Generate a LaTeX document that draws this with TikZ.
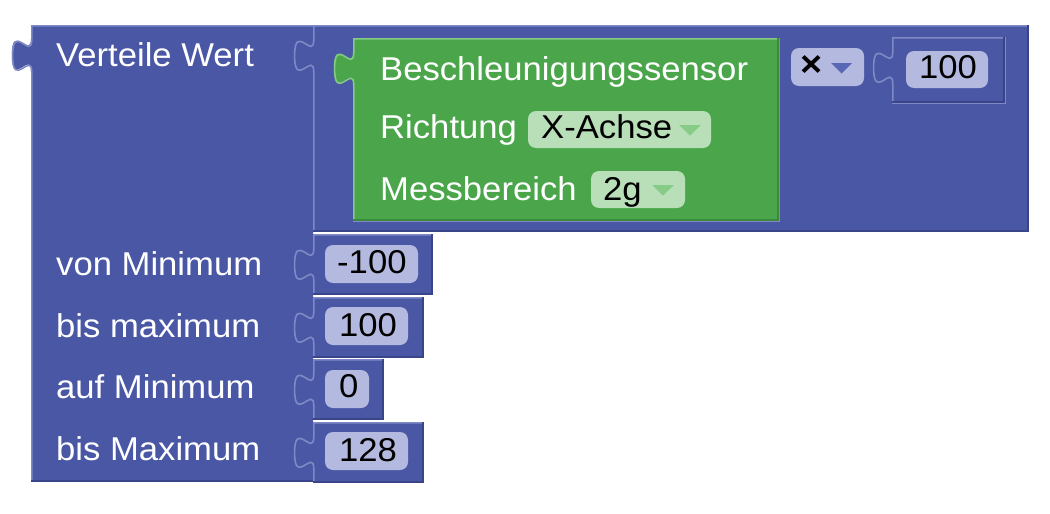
\documentclass[tikz,border=0pt]{standalone}
\usepackage{fontspec}
\setmainfont{Liberation Sans}[FakeStretch=1.05]
\definecolor{blk}{HTML}{4A57A5}
\definecolor{blkhl}{HTML}{7F89C6}
\definecolor{blkdk}{HTML}{3A4589}
\definecolor{pillb}{HTML}{B4BADF}
\definecolor{grn}{HTML}{4BA64B}
\definecolor{grnhl}{HTML}{84C984}
\definecolor{grndk}{HTML}{3A8A3A}
\definecolor{pillg}{HTML}{B8DFB8}
\definecolor{trig}{HTML}{86CB86}
\definecolor{trib}{HTML}{5A67B4}
\begin{document}
\begin{tikzpicture}[x=1pt,y=-1pt,
  tabdown/.style={insert path={-- ++(0,13.5)
      .. controls +(0,22) and +(0,-34.1) .. ++(-19.2,16.5)
      .. controls +(0,34.1) and +(0,-22) .. ++(19.2,16.5)}},
  hl/.style={draw=blkhl, line width=1.6pt},
  dk/.style={draw=blkdk, line width=2.2pt},
  ghl/.style={draw=grnhl, line width=1.6pt},
  gdk/.style={draw=grndk, line width=2.2pt},
  lbl/.style={text=white, inner sep=0pt, anchor=base west, font=\fontsize{33}{36}\selectfont},
  val/.style={text=black, inner sep=0pt, anchor=base west, font=\fontsize{33}{36}\selectfont},
  pill/.style={fill=pillb, rounded corners=8pt},
  gpill/.style={fill=pillg, rounded corners=8pt},
]
\useasboundingbox (0,0) rectangle (1050,514);

% ---- main "Verteile Wert" block ----
\fill[blk] (31,25) [tabdown] -- (31,481) -- (313,481) -- (313,25) -- cycle;
\draw[hl] (313,25.8) -- (31.8,25.8) [tabdown] -- (31.8,480);
\draw[dk] (31,480.9) -- (313,480.9);

% ---- arithmetic block (sensor x 100) ----
\fill[blk] (313,25) [tabdown] -- (313,231) -- (1028,231) -- (1028,25) -- cycle;
\draw[hl] (1027,25.8) -- (313.8,25.8) [tabdown] -- (313.8,230);
\draw[dk] (313,230.9) -- (1027.9,230.9) -- (1027.9,25);

% inline socket rim around the sensor block
\draw[hl] (353,221.4) -- (779.4,221.4) -- (779.4,38);
% ---- accelerometer block ----
\fill[grn] (353,38) [tabdown] -- (353,220) -- (778,220) -- (778,38) -- cycle;
\draw[ghl] (777,38.8) -- (353.8,38.8) [tabdown] -- (353.8,219);
\draw[gdk] (353,219.9) -- (777.9,219.9) -- (777.9,38);

\node[lbl] (sensor) at (380,80) {Beschleunigungssensor};
\node[lbl] (richtung) at (380,138) {Richtung};
\node[lbl] (messber) at (380,200) {Messbereich};

\fill[gpill] (528,111) rectangle (711,148);
\node[val] (achse) at (541,138) {X-Achse};
\fill[trig] (679,125) -- (701,125) -- (690,135.5) -- cycle;

\fill[gpill] (591,171) rectangle (685,208);
\node[val] (range) at (603,200) {2g};
\fill[trig] (652,185) -- (674,185) -- (663,195.5) -- cycle;

% operator dropdown
\fill[pill] (791,48) rectangle (864,86);
\node[text=black, inner sep=0pt, font=\fontsize{36}{40}\selectfont\bfseries] (op) at (811.5,66) {×};
\fill[trib] (831,63) -- (852,63) -- (841.5,73.5) -- cycle;

% inline socket rim and factor block
\draw[hl] (892,103.2) -- (1005.2,103.2) -- (1005.2,37);
\fill[blk] (892,37) [tabdown] -- (892,102) -- (1004,102) -- (1004,37) -- cycle;
\draw[hl] (1003,37.8) -- (892.8,37.8) [tabdown] -- (892.8,101);
\draw[dk] (892,101.9) -- (1003.9,101.9) -- (1003.9,37);
\fill[pill] (906,51) rectangle (988,88);
\node[val] (factor) at (919,78) {100};

% ---- number blocks on the range inputs ----
\fill[blk] (313,234) [tabdown] -- (313,294) -- (432,294) -- (432,234) -- cycle;
\draw[hl] (431,234.8) -- (313.8,234.8) [tabdown] -- (313.8,293);
\draw[dk] (313,293.9) -- (431.9,293.9) -- (431.9,234);
\fill[pill] (325,245) rectangle (418,283);
\node[val] (vfrommin) at (337,273) {-100};

\fill[blk] (313,297) [tabdown] -- (313,357) -- (423,357) -- (423,297) -- cycle;
\draw[hl] (422,297.8) -- (313.8,297.8) [tabdown] -- (313.8,356);
\draw[dk] (313,356.9) -- (422.9,356.9) -- (422.9,297);
\fill[pill] (325,307) rectangle (408,345);
\node[val] (vfrommax) at (339,336) {100};

\fill[blk] (313,359) [tabdown] -- (313,419) -- (383,419) -- (383,359) -- cycle;
\draw[hl] (382,359.8) -- (313.8,359.8) [tabdown] -- (313.8,418);
\draw[dk] (313,418.9) -- (382.9,418.9) -- (382.9,359);
\fill[pill] (325,370) rectangle (369,408);
\node[val] (vtomin) at (339,397) {0};

\fill[blk] (313,422) [tabdown] -- (313,482) -- (423,482) -- (423,422) -- cycle;
\draw[hl] (422,422.8) -- (313.8,422.8) [tabdown] -- (313.8,481);
\draw[dk] (313,481.9) -- (422.9,481.9) -- (422.9,422);
\fill[pill] (325,432) rectangle (408,470);
\node[val] (vtomax) at (339,461) {128};

% ---- input labels ----
\node[lbl] (title) at (56,66) {Verteile Wert};
\node[lbl] (frommin) at (56,275) {von Minimum};
\node[lbl] (frommax) at (56,337) {bis maximum};
\node[lbl] (tomin) at (56,398) {auf Minimum};
\node[lbl] (tomax) at (56,460) {bis Maximum};
\end{tikzpicture}
\end{document}
